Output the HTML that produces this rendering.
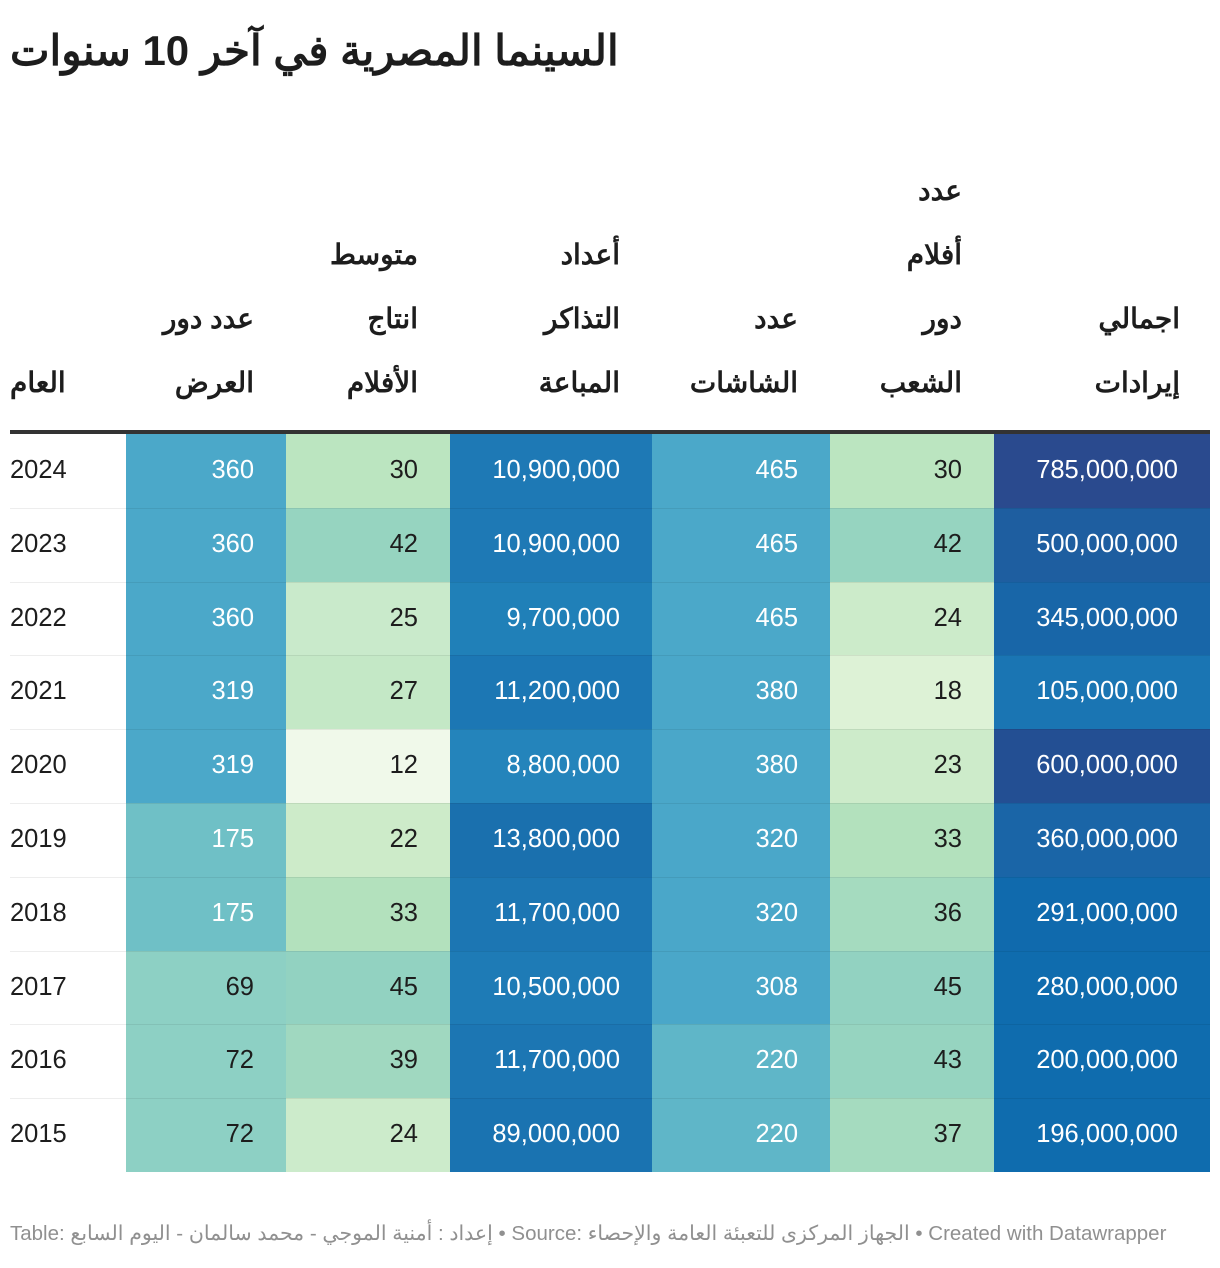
<!DOCTYPE html>
<html><head><meta charset="utf-8">
<style>
body{margin:0;background:#fff;width:1220px;height:1268px;overflow:hidden;position:relative;font-family:"Liberation Sans","Noto Sans CJK SC",sans-serif;color:#1d1d1d}
.abs{position:absolute}
#title{left:10px;top:26px;font-size:42px;font-weight:bold;direction:rtl;white-space:nowrap}
.hdr{position:absolute;font-size:28px;font-weight:bold;line-height:64px;white-space:nowrap;direction:rtl;text-align:right}
.cell{position:absolute;height:74px;line-height:74px;font-size:25.5px;box-sizing:border-box}
#foot{left:10px;top:1221px;font-size:20.5px;color:#909090;white-space:nowrap}
</style></head><body>
<div id="title" class="abs">السينما المصرية في آخر 10 سنوات</div>
<div id="table"></div>
<div class="abs" style="left:10px;top:430px;width:1200px;height:4px;background:#333"></div>
<div id="foot" class="abs">Table: <bdi dir="rtl">إعداد : أمنية الموجي - محمد سالمان - اليوم السابع</bdi> • Source: <bdi dir="rtl">الجهاز المركزى للتعبئة العامة والإحصاء</bdi> • Created with Datawrapper</div>
<script>
const years=[2024,2023,2022,2021,2020,2019,2018,2017,2016,2015];
const theaters=[360,360,360,319,319,175,175,69,72,72];
const avgFilms=[30,42,25,27,12,22,33,45,39,24];
const tickets=[10900000,10900000,9700000,11200000,8800000,13800000,11700000,10500000,11700000,89000000];
const screens=[465,465,465,380,380,320,320,308,220,220];
const peopleFilms=[30,42,24,18,23,33,36,45,43,37];
const revenue=[785000000,500000000,345000000,105000000,600000000,360000000,291000000,280000000,200000000,196000000];
const headers=[["العام"],["عدد دور","العرض"],["متوسط","انتاج","الأفلام"],["أعداد","التذاكر","المباعة"],["عدد","الشاشات"],["عدد","أفلام","دور","الشعب"],["اجمالي","إيرادات"]];

const colX=[10,126,286,450,652,830,994,1210];
const colors=[
 null,
 ['#4ba8c9','#4ba8c9','#4ba8c9','#4ba8c9','#4ba8c9','#6fc0c6','#6fc0c6','#8dd0c4','#8dd0c4','#8dd0c4'],
 ['#bbe5c0','#96d4c0','#c9eacb','#c4e8c6','#f0f9ea','#cdebc9','#b3e1bd','#92d2c1','#a0d8c0','#ccebcb'],
 ['#1e79b5','#1e79b5','#2080b8','#1c77b4','#2484bb','#1a70ae','#1c76b3','#1e7bb6','#1c76b3','#1a73b1'],
 ['#4ba8c9','#4ba8c9','#4ba8c9','#4aa7c9','#4aa7c9','#4aa7c9','#4aa7c9','#4aa7c9','#5fb6c8','#5fb6c8'],
 ['#bbe5c0','#96d4c0','#ccebca','#ddf2d6','#cdebca','#b3e1bd','#a5dbbf','#92d2c1','#96d4c0','#a5dbbf'],
 ['#2a4a8e','#1e5ea0','#1866a8','#1a75b3','#234f93','#1a65a7','#106aad','#0f6cae','#0f6cae','#0f6cae']
];
function lum(hex){const n=parseInt(hex.slice(1),16);return 0.299*(n>>16)+0.587*((n>>8)&255)+0.114*(n&255);}
const cols=[years,theaters,avgFilms,tickets,screens,peopleFilms,revenue];
const names=['year','theaters','avg-films','tickets','screens','people-films','revenue'];
const fmt=v=>v.toLocaleString('en-US');
const T=document.getElementById('table');
headers.forEach((lines,c)=>{
  const h=document.createElement('div');
  h.className='hdr';
  
  
  h.style.bottom=(1268-415)+'px';
  if(c===0){h.style.left='10px';h.style.textAlign='left';}
  else{h.style.right=(1220-colX[c+1]+(c===6?30:32))+'px';}
  h.innerHTML=lines.join('<br>');
  T.appendChild(h);
});
const rowTop=434,rowH=73.8;
years.forEach((y,r)=>{
  cols.forEach((arr,c)=>{
    const d=document.createElement('div');
    d.className='cell';
    
    
    d.style.left=colX[c]+'px';
    d.style.width=(colX[c+1]-colX[c])+'px';
    d.style.top=(rowTop+r*rowH)+'px';
    d.style.height=(rowH+0.5)+'px';
    d.style.lineHeight=rowH+'px';
    if(c===0){d.textContent=arr[r];d.style.textAlign='left';}
    else{
      d.textContent=fmt(arr[r]);
      d.style.textAlign='right';
      d.style.paddingRight='32px';
      d.style.background=colors[c][r];
      d.style.color=lum(colors[c][r])<175?'#fff':'#1d1d1d';
    }
    T.appendChild(d);
  });
  if(r>0){
    const l=document.createElement('div');
    
    
    l.className='abs';
    l.style.cssText='left:10px;width:1200px;height:1px;background:rgba(0,0,0,0.07);top:'+(rowTop+r*rowH)+'px';
    T.appendChild(l);
  }
});
</script>
</body></html>
